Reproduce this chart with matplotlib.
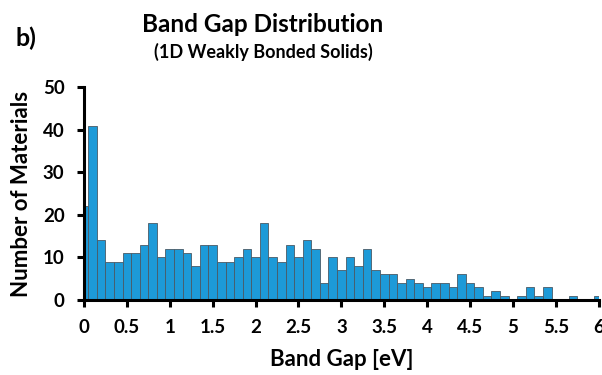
import matplotlib
matplotlib.use('Agg')
import matplotlib.pyplot as plt
import numpy as np

# bin centres 0.0, 0.1, ... 6.0 (eV) and counts
gaps = [round(0.1 * i, 1) for i in range(61)]
counts = [22, 41, 14, 9, 9, 11, 11, 13, 18, 10,
          12, 12, 11, 8, 13, 13, 9, 9, 10, 12,
          10, 18, 10, 9, 13, 10, 14, 12, 4, 10,
          7, 10, 8, 12, 7, 6, 6, 4, 5, 4,
          3, 4, 4, 3, 6, 4, 3, 1, 2, 1,
          0, 1, 3, 1, 3, 0, 0, 1, 0, 0,
          1]
xticks = [0, 0.5, 1, 1.5, 2, 2.5, 3, 3.5, 4, 4.5, 5, 5.5, 6]
xticklabels = ['0', '0.5', '1', '1.5', '2', '2.5', '3', '3.5', '4', '4.5', '5', '5.5', '6']
yticks = [0, 10, 20, 30, 40, 50]

plt.rcParams['font.family'] = ['Lato', 'DejaVu Sans']

fig = plt.figure(figsize=(6.02, 3.75), dpi=100)
ax = fig.add_axes([0.1395, 0.2, 0.855, 0.5667])

ax.bar(gaps, counts, width=0.1, color='#1d9ad8', edgecolor='#4a5a66', linewidth=0.6)
ax.set_xlim(0, 6)
ax.set_ylim(0, 50)
ax.set_xticks(xticks)
ax.set_xticklabels(xticklabels)
ax.set_yticks(yticks)

for s in ['top', 'right']:
    ax.spines[s].set_visible(False)
for s in ['left', 'bottom']:
    ax.spines[s].set_linewidth(2.2)
ax.tick_params(direction='out', length=5, width=2.2, labelsize=13.5)
ax.tick_params(axis='x', pad=9)
ax.tick_params(axis='y', pad=9)
for lbl in ax.get_xticklabels() + ax.get_yticklabels():
    lbl.set_fontweight('bold')

ax.set_xlabel('Band Gap [eV]', fontsize=16, fontweight='bold', labelpad=9)
ax.set_ylabel('Number of Materials', fontsize=16, fontweight='bold', labelpad=8)

fig.text(0.437, 0.935, 'Band Gap Distribution', ha='center', va='center',
         fontsize=17.5, fontweight='bold')
fig.text(0.437, 0.862, '(1D Weakly Bonded Solids)', ha='center', va='center',
         fontsize=13, fontweight='bold')
fig.text(0.043, 0.898, 'b)', ha='center', va='center', fontsize=18, fontweight='bold')

fig.savefig('out.png', dpi=100)
